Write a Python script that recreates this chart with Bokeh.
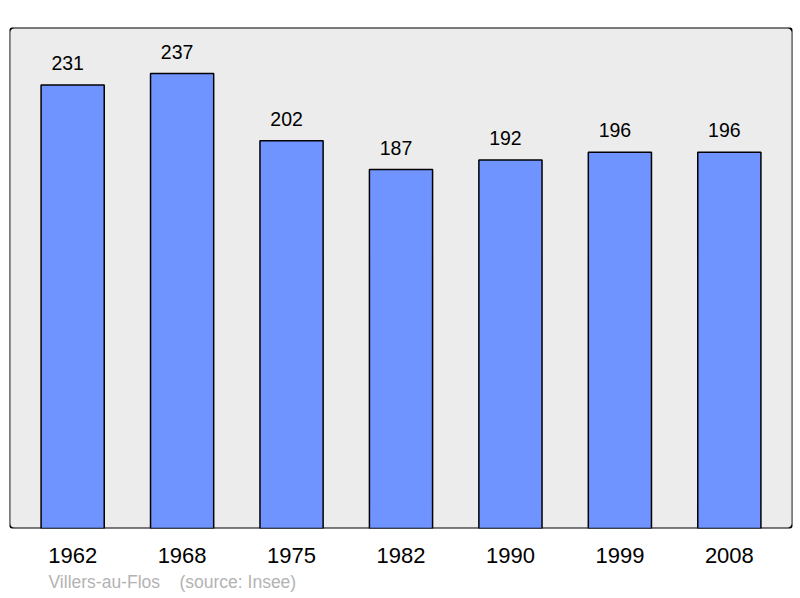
from bokeh.plotting import figure
from bokeh.models import FactorRange, Range1d, BoxAnnotation, Title, ColumnDataSource
from bokeh.core.properties import value
from bokeh.embed import file_html
from bokeh.resources import INLINE

years = ["1962", "1968", "1975", "1982", "1990", "1999", "2008"]
population = [231, 237, 202, 187, 192, 196, 196]
labels = [str(v) for v in population]
caption = "Villers-au-Flos\u00a0\u00a0\u00a0\u00a0(source: Insee)"

FONT = "Liberation Sans"
Y_MAX = 261

src = ColumnDataSource(dict(x=years, top=population, label=labels))

p = figure(
    width=800, height=598,
    x_range=FactorRange(*years, range_padding=0.022, range_padding_units="percent"),
    y_range=Range1d(0, Y_MAX),
    output_backend="svg", toolbar_location=None, tools="",
    min_border_left=9, min_border_right=8, min_border_top=27, min_border_bottom=70,
)
p.background_fill_color = "white"
p.border_fill_color = "white"
p.outline_line_color = None
p.grid.visible = False
p.yaxis.visible = False

frame = BoxAnnotation(left=-0.078, right=7.078, bottom=0, top=Y_MAX,
                      fill_color="#ececec", fill_alpha=1,
                      line_color="black", line_width=2, line_alpha=1,
                      border_radius=5, level="underlay")
p.add_layout(frame)

p.vbar(x="x", top="top", width=0.577, bottom=0, source=src,
       fill_color="#7094ff", line_color="black", line_width=1.5)

p.text(x="x", y="top", text="label", source=src, x_offset=-5, y_offset=-22,
       text_align="center", text_baseline="middle",
       text_font=value(FONT), text_font_size="19.5px", text_color="black")

ax = p.xaxis[0]
ax.axis_line_color = None
ax.major_tick_line_color = None
ax.minor_tick_line_color = None
ax.major_tick_out = 0
ax.major_tick_in = 0
ax.major_label_standoff = 19
ax.major_label_text_font = FONT
ax.major_label_text_font_size = "22px"
ax.major_label_text_color = "black"

cap = Title(text=caption, align="left", offset=39, standoff=9,
            text_font=FONT, text_font_size="17.5px", text_font_style="normal",
            text_color="#b3b3b3")
p.add_layout(cap, "below")

open("out.html", "w").write(file_html(p, INLINE))
